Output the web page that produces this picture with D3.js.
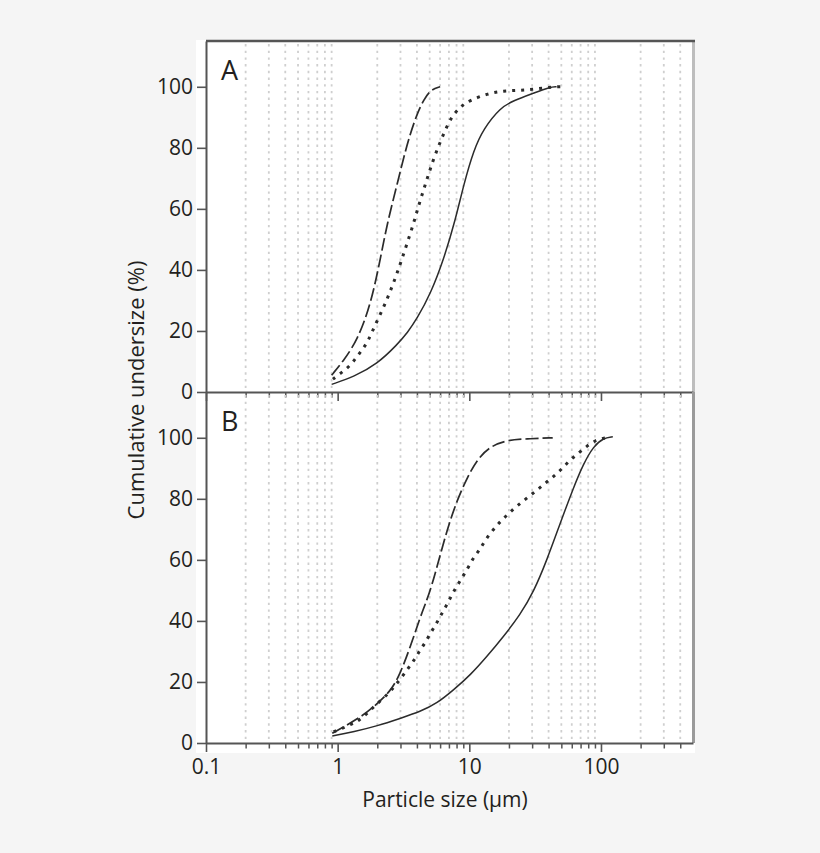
<!DOCTYPE html>
<html>
<head>
<meta charset="utf-8">
<script src="https://cdn.jsdelivr.net/npm/d3@7"></script>
<style>
  body { margin: 0; background: #f5f5f5; }
  svg { display: block; font-family: "Open Sans", sans-serif; }
</style>
</head>
<body>
<svg id="chart" width="820" height="853"></svg>
<script>
// particle size (um) vs cumulative undersize (%)
const aSolid = [[0.9,2.5],[1.33,5.0],[2.0,9.2],[2.83,15.5],[3.4,19.5],[4.0,24],[5.06,32],[6.4,43.5],[7.84,56.4],[9.07,68],[10.8,79.3],[12.8,86.2],[17.2,93.2],[21.7,95.5],[30.8,97.9],[41,99.9],[46,100]];
const aDashed = [[0.9,5.5],[1.12,10.5],[1.41,17],[1.78,28.5],[2.12,44],[2.38,55.3],[2.83,68],[3.37,81.5],[4.02,91.4],[4.51,95.7],[5.06,99],[6.0,100]];
const aDotted = [[0.92,4.2],[1.05,6.1],[1.24,8.5],[1.39,11.4],[1.55,14],[1.71,16.8],[1.94,22.3],[2.24,27.8],[2.52,33.2],[2.83,38.9],[3.27,47],[3.78,55.3],[4.1,60.8],[4.51,66.4],[4.93,71.7],[5.46,77.4],[6.13,82.8],[6.97,88.4],[7.74,91.4],[8.8,93.9],[10.2,95.6],[13.6,97.7],[18.2,98.7],[24.3,98.8],[32.6,99.3],[43.6,100],[52,100]];

const bSolid = [[0.91,2.3],[1.33,3.7],[2.0,5.6],[3.0,8.1],[4.25,10.3],[5.69,13],[7.6,17.4],[10.2,22.3],[13.6,28.3],[18.2,34.9],[24.3,42],[30.8,49.5],[38.9,60],[49,72],[61.6,83.5],[73.6,91.5],[87.7,97.2],[104,99.9],[123,100.3]];
const bDashed = [[0.91,3.2],[1.12,5.3],[1.58,9.2],[1.88,11.9],[2.52,16.8],[3.0,22.9],[3.57,31.6],[4.25,41.4],[4.77,46.9],[5.2,51.8],[5.69,57.8],[6.77,69.8],[8.09,79.7],[9.62,86.8],[11.4,92.8],[14.4,97.2],[19.3,99.3],[29,99.7],[43,100]];
const bDotted = [[0.93,3.7],[1.05,4.5],[1.24,6],[1.41,7],[1.63,9.2],[1.88,11.9],[2.45,16.3],[2.75,19],[3.09,21.7],[3.47,24.8],[3.85,27.4],[4.2,30.3],[4.64,32.9],[5.06,36],[5.52,38.5],[5.96,41.2],[6.5,44],[7.05,46.9],[7.6,49.6],[8.3,52.3],[9.07,55.1],[9.9,57.8],[10.8,60.9],[12,63.3],[13,66],[14.6,69],[16.5,71.7],[18.7,74.1],[21.7,76.7],[25,78.9],[29,81.1],[33.6,83.3],[38.9,85.6],[45.1,87.8],[51.4,90.2],[58.5,92.8],[67.8,95],[78.6,97.4],[90.3,99.1],[104,99.9],[115,100]];

const majorTicks = [0.1, 1, 10, 100];
const minorTicks = [0.2,0.3,0.4,0.5,0.6,0.7,0.8,0.9,2,3,4,5,6,7,8,9,20,30,40,50,60,70,80,90,200,300,400];
const yTicks = [0, 20, 40, 60, 80, 100];
const panelNames = ["A", "B"];

const svg = d3.select("#chart");
const margin = {top: 41, right: 127, bottom: 110, left: 206};
const width = 820, height = 853;
const plotBottom = height - margin.bottom;
const panelH = (plotBottom - margin.top) / 2;
const ink = "#2b2b2b";
const textInk = "#231f20";
const fontSize = 21;

const x = d3.scaleLog([0.1, 500], [margin.left, width - margin.right]);

// white plot backdrop
svg.append("rect")
    .attr("x", margin.left - 10).attr("y", margin.top - 1)
    .attr("width", width - margin.right - margin.left + 12)
    .attr("height", plotBottom - margin.top + 11)
    .attr("fill", "#fff");

const panels = [
  {name: "A", series: [aSolid, aDashed, aDotted]},
  {name: "B", series: [bSolid, bDashed, bDotted]}
];
const styles = [
  {dash: null, width: 1.5},
  {dash: "13,4", width: 1.7},
  {dash: "3,6", width: 3}
];

panels.forEach((p, i) => {
  const top = margin.top + i * panelH;
  const bottom = top + panelH;
  const y = d3.scaleLinear([0, 115], [bottom, top]);
  const g = svg.append("g");

  // dotted grid at minor decades
  g.append("g")
    .selectAll("line")
    .data(minorTicks)
    .join("line")
      .attr("x1", d => x(d)).attr("x2", d => x(d))
      .attr("y1", top + 3).attr("y2", bottom)
      .attr("stroke", "#cfcfcf")
      .attr("stroke-width", 1.8)
      .attr("stroke-dasharray", "2.4,4.3");

  // right border
  g.append("line")
      .attr("x1", width - margin.right + 0.5).attr("x2", width - margin.right + 0.5)
      .attr("y1", top).attr("y2", bottom)
      .attr("stroke", i === 0 ? "#bdbdbd" : "#9a9a9a")
      .attr("stroke-width", 3);

  const line = d3.line()
      .x(d => x(d[0]))
      .y(d => y(d[1]))
      .curve(d3.curveBasis);

  g.append("g")
      .attr("fill", "none")
    .selectAll("path")
    .data(p.series)
    .join("path")
      .attr("stroke", ink)
      .attr("stroke-width", (d, k) => styles[k].width)
      .attr("stroke-dasharray", (d, k) => styles[k].dash)
      .attr("d", line);

  // y axis
  g.append("g")
      .attr("transform", `translate(${margin.left},0)`)
      .call(d3.axisLeft(y).tickValues(yTicks).tickSize(9).tickPadding(4).tickSizeOuter(0))
      .call(a => a.select(".domain").attr("stroke", "#555").attr("stroke-width", 2))
      .call(a => a.selectAll(".tick line").attr("stroke", "#555").attr("stroke-width", 1.6))
      .call(a => a.selectAll(".tick text")
          .attr("font-size", fontSize).attr("fill", textInk)
          .attr("font-family", "Open Sans, sans-serif"));

  // x axis: minor then major ticks
  g.append("g")
      .attr("transform", `translate(0,${bottom})`)
      .call(d3.axisBottom(x).tickValues(minorTicks).tickSize(5.5).tickFormat("").tickSizeOuter(0))
      .call(a => a.select(".domain").remove())
      .call(a => a.selectAll(".tick line").attr("stroke", "#555").attr("stroke-width", 1.5));

  g.append("g")
      .attr("transform", `translate(0,${bottom})`)
      .call(d3.axisBottom(x).tickValues(majorTicks).tickSize(9).tickPadding(7)
          .tickFormat(i === 1 ? d3.format("") : "").tickSizeOuter(0))
      .call(a => a.select(".domain").attr("stroke", "#555").attr("stroke-width", 2.2))
      .call(a => a.selectAll(".tick line").attr("stroke", "#555").attr("stroke-width", 1.6))
      .call(a => a.selectAll(".tick text")
          .attr("font-size", fontSize).attr("fill", textInk)
          .attr("font-family", "Open Sans, sans-serif"));

  // panel letter
  g.append("text")
      .attr("x", margin.left + 15)
      .attr("y", top + 39)
      .attr("font-size", 27)
      .attr("fill", textInk)
      .text(panelNames[i]);
});

// top border
svg.append("line")
    .attr("x1", margin.left).attr("x2", width - margin.right + 2)
    .attr("y1", margin.top).attr("y2", margin.top)
    .attr("stroke", "#555").attr("stroke-width", 2.5);

// axis titles
svg.append("text")
    .attr("x", 445).attr("y", 807)
    .attr("text-anchor", "middle")
    .attr("font-size", fontSize).attr("fill", textInk)
    .text("Particle size (\u03bcm)");

svg.append("text")
    .attr("transform", "translate(144,390) rotate(-90)")
    .attr("text-anchor", "middle")
    .attr("font-size", 22).attr("fill", textInk)
    .text("Cumulative undersize (%)");
</script>
</body>
</html>
